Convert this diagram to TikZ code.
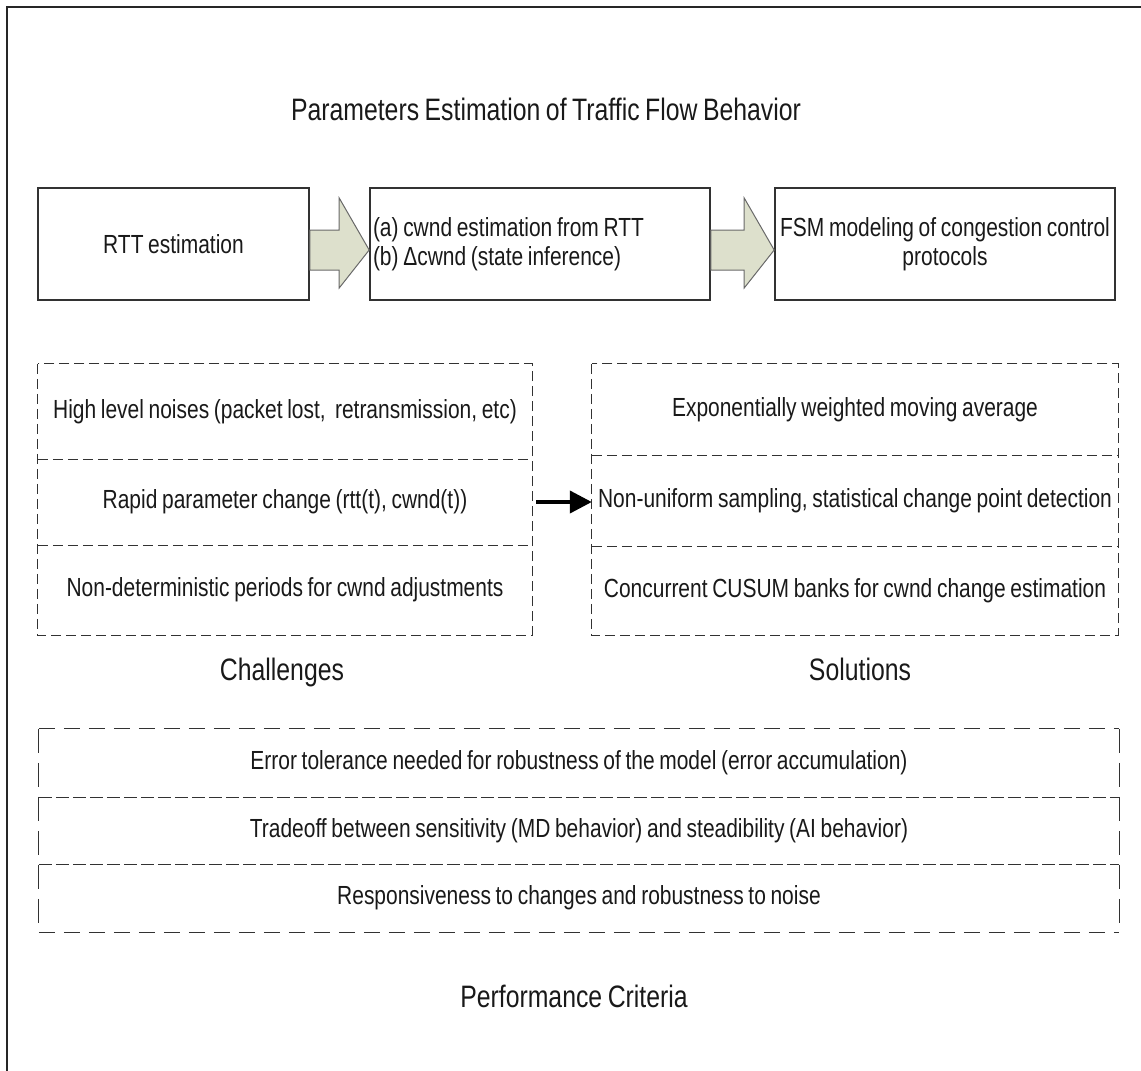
\documentclass[tikz,border=0pt]{standalone}
\usepackage{fontspec}
\setmainfont{Liberation Sans}[FakeStretch=0.8, WordSpace=0.8]
\usetikzlibrary{arrows.meta,calc}
\definecolor{arrowfill}{RGB}{221,224,204}
\definecolor{arrowedge}{RGB}{105,105,105}
\definecolor{edge}{RGB}{50,50,50}
\begin{document}
\begin{tikzpicture}[x=1pt,y=-1pt,
  txt/.style={font=\fontsize{26.2}{29}\selectfont, inner sep=2pt, text=black!90},
  bigtxt/.style={font=\fontsize{31}{34}\selectfont, inner sep=0pt, text=black!90, anchor=base},
  solidbox/.style={draw=edge, line width=1.6pt, txt, align=flush center, minimum height=112pt},
  rowcell/.style={txt},
  rowline/.style={draw=edge, line width=1.2pt, dash pattern=on 10pt off 5pt},
  critside/.style={draw=edge, line width=1.3pt, dash pattern=on 24pt off 10pt},
  critedge/.style={draw=edge, line width=1.3pt, dash pattern=on 16pt off 9pt},
  critdiv/.style={draw=edge, line width=1.3pt, dash pattern=on 13pt off 4pt},
  blockarrow/.style={fill=arrowfill, draw=arrowedge, line width=1pt, line join=miter},
]
\useasboundingbox (0,0) rectangle (1141,1071);

% outer frame (top and left edges)
\draw[line width=2pt, black!85] (7,1071) -- (7,7) -- (1141,7);

% title
\node[bigtxt] (title) at (546,120) {Parameters Estimation of Traffic Flow Behavior};

% processing chain
\node[solidbox, minimum width=271pt] (rtt) at (173.5,244) {RTT estimation};
\node[solidbox, text width=334pt, align=flush left, inner sep=3pt] (mid) at (540,244)
  {(a) cwnd estimation from RTT\\(b) Δcwnd (state inference)};
\node[solidbox, minimum width=340pt] (fsm) at (945,244)
  {FSM modeling of congestion control\\protocols};

% block arrows between the chain stages
\draw[blockarrow] (rtt.east |- 0,230) -- ($(mid.west |- 0,230)+(-30,0)$)
  -- ($(mid.west |- 0,198)+(-30,0)$) -- (mid.west |- 0,250)
  -- ($(mid.west |- 0,288)+(-30,0)$) -- ($(mid.west |- 0,270)+(-30,0)$)
  -- (rtt.east |- 0,270) -- cycle;
\draw[blockarrow] (mid.east |- 0,230) -- ($(fsm.west |- 0,230)+(-30,0)$)
  -- ($(fsm.west |- 0,198)+(-30,0)$) -- (fsm.west |- 0,250)
  -- ($(fsm.west |- 0,288)+(-30,0)$) -- ($(fsm.west |- 0,270)+(-30,0)$)
  -- (mid.east |- 0,270) -- cycle;

% challenges
\node[rowcell, minimum width=494pt, minimum height=95pt] (c1) at (285,411.5)
  {High level noises (packet lost,\ \ retransmission, etc)};
\node[rowcell, minimum width=494pt, minimum height=86pt] (c2) at (285,502)
  {Rapid parameter change (rtt(t), cwnd(t))};
\node[rowcell, minimum width=494pt, minimum height=90pt] (c3) at (285,590)
  {Non-deterministic periods for cwnd adjustments};
\draw[rowline] (c1.north west) rectangle (c3.south east);
\draw[rowline] (c1.south west) -- (c1.south east);
\draw[rowline] (c2.south west) -- (c2.south east);
\node[bigtxt] (chal) at (282,680) {Challenges};

% solutions
\node[rowcell, minimum width=526pt, minimum height=91pt] (s1) at (855,409.5)
  {Exponentially weighted moving average};
\node[rowcell, minimum width=526pt, minimum height=91pt] (s2) at (855,500.5)
  {Non-uniform sampling, statistical change point detection};
\node[rowcell, minimum width=526pt, minimum height=89pt] (s3) at (855,590.5)
  {Concurrent CUSUM banks for cwnd change estimation};
\draw[rowline] (s1.north west) rectangle (s3.south east);
\draw[rowline] (s1.south west) -- (s1.south east);
\draw[rowline] (s2.south west) -- (s2.south east);
\node[bigtxt] (sol) at (860,680) {Solutions};

% challenge -> solution
\draw[line width=4pt, black, -{Triangle[length=22pt,width=22pt]}]
  ($(c2.east)+(4,0)$) -- (c2.east -| s2.west);

% performance criteria
\node[rowcell, minimum width=1080pt, minimum height=68pt] (p1) at (579,763)
  {Error tolerance needed for robustness of the model (error accumulation)};
\node[rowcell, minimum width=1080pt, minimum height=67pt] (p2) at (579,830.5)
  {Tradeoff between sensitivity (MD behavior) and steadibility (AI behavior)};
\node[rowcell, minimum width=1080pt, minimum height=68pt] (p3) at (579,898)
  {Responsiveness to changes and robustness to noise};
\draw[critedge] (p1.north west) -- (p1.north east);
\draw[critedge] (p3.south west) -- (p3.south east);
\draw[critside] (p1.north west) -- (p3.south west);
\draw[critside] (p1.north east) -- (p3.south east);
\draw[critdiv] (p1.south west) -- (p1.south east);
\draw[critdiv] (p2.south west) -- (p2.south east);
\node[bigtxt] (perf) at (574,1007) {Performance Criteria};
\end{tikzpicture}
\end{document}
